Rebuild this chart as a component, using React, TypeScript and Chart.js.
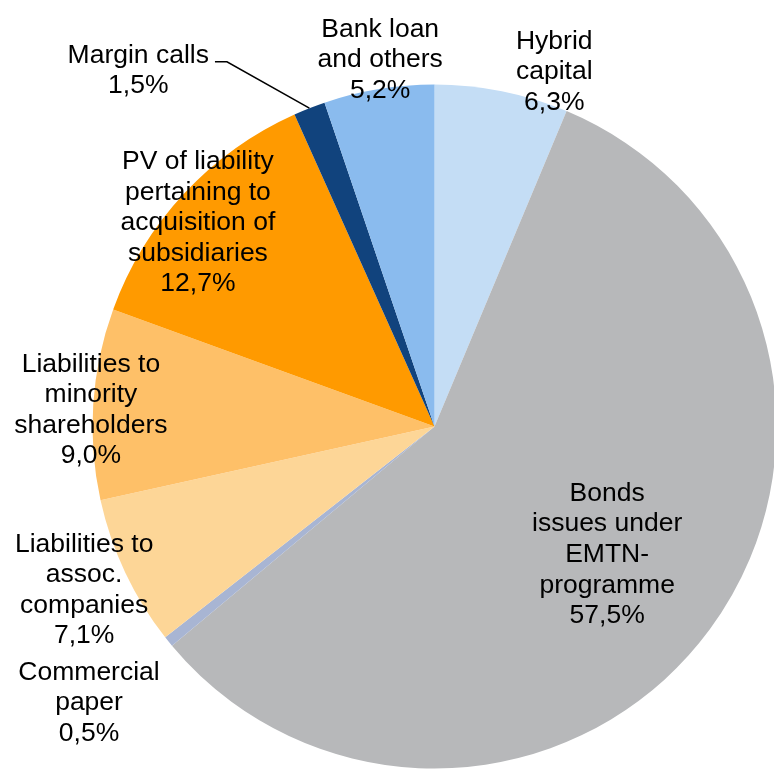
import React, { useEffect, useRef } from "react";
import { Chart, registerables } from "chart.js";

Chart.register(...registerables);

// ---- data ----
const categories: string[][] = [
  ["Hybrid", "capital"],
  ["Bonds", "issues under", "EMTN-", "programme"],
  ["Commercial", "paper"],
  ["Liabilities to", "assoc.", "companies"],
  ["Liabilities to", "minority", "shareholders"],
  ["PV of liability", "pertaining to", "acquisition of", "subsidiaries"],
  ["Margin calls"],
  ["Bank loan", "and others"],
];
const shares: number[] = [6.3, 57.5, 0.5, 7.1, 9.0, 12.7, 1.5, 5.2];

// ---- styles / label layout ----
const sliceColors = [
  "#C4DDF5",
  "#B7B8BA",
  "#A8B5D3",
  "#FDD697",
  "#FEC068",
  "#FF9A00",
  "#11437D",
  "#8ABBEE",
];
const labelRadius = [1.1, 0.625, 1.29, 1.128, 1.006, 0.917, 1.3585, 1.09];
const labelAngleShift = [7.2, -0.3, 0.5, 0.5, -0.7, -1.9, -18.15, 1.0];
const hasLeader = [false, false, false, false, false, false, true, false];

const FONT_SIZE = 26.5;
const FONT = `${FONT_SIZE}px "Liberation Sans", Arial, sans-serif`;
const LINE_H = 30.6;

const labelPlugin = {
  id: "pieLabels",
  afterDraw(chart: any) {
    const ctx = chart.ctx as CanvasRenderingContext2D;
    const meta = chart.getDatasetMeta(0);
    ctx.save();
    ctx.font = FONT;
    ctx.fillStyle = "#000";
    ctx.textAlign = "center";
    ctx.textBaseline = "alphabetic";
    const capHalf = FONT_SIZE * 0.358;
    meta.data.forEach((arc: any, i: number) => {
      const { x, y, startAngle, endAngle, outerRadius } = arc.getProps(
        ["x", "y", "startAngle", "endAngle", "outerRadius"],
        true
      );
      const mid = (startAngle + endAngle) / 2;
      const a = mid + (labelAngleShift[i] * Math.PI) / 180;
      const r = outerRadius * labelRadius[i];
      const cx = x + Math.cos(a) * r;
      const cy = y + Math.sin(a) * r;
      const pct = shares[i].toFixed(1).replace(".", ",") + "%";
      const lines = [...categories[i], pct];
      const top = cy - ((lines.length - 1) * LINE_H) / 2;
      lines.forEach((t, k) => ctx.fillText(t, cx, top + k * LINE_H + capHalf));
      if (hasLeader[i]) {
        const w = ctx.measureText(lines[0]).width;
        const sx = cx + w / 2 + 6;
        const sy = top + 8.5;
        const ex = x + Math.cos(mid) * outerRadius;
        const ey = y + Math.sin(mid) * outerRadius;
        ctx.beginPath();
        ctx.strokeStyle = "#000";
        ctx.lineWidth = 1.5;
        ctx.moveTo(sx, sy);
        ctx.lineTo(sx + 12, sy);
        ctx.lineTo(ex, ey);
        ctx.stroke();
      }
    });
    ctx.restore();
  },
};

export default function App() {
  const ref = useRef<HTMLCanvasElement | null>(null);
  useEffect(() => {
    document.body.style.overflow = "hidden";
    if (!ref.current) return;
    const chart = new Chart(ref.current, {
      type: "pie",
      data: {
        labels: categories.map((c) => c.join(" ")),
        datasets: [
          {
            data: shares,
            backgroundColor: sliceColors,
            borderWidth: 0,
          },
        ],
      },
      options: {
        animation: false,
        responsive: true,
        maintainAspectRatio: false,
        layout: { padding: { left: 92.5, top: 84.5, right: 13.5, bottom: 1.5 } },
        plugins: {
          legend: { display: false },
          tooltip: { enabled: false },
        },
      },
      plugins: [labelPlugin],
    });
    return () => chart.destroy();
  }, []);
  return (
    <div
      style={{
        position: "fixed",
        left: 0,
        top: 0,
        width: 790,
        height: 770,
        background: "#fff",
      }}
    >
      <canvas ref={ref} />
    </div>
  );
}
